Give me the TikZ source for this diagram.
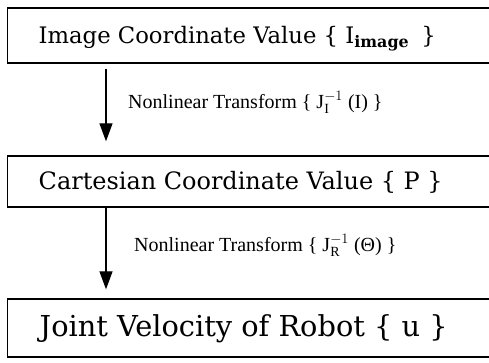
\documentclass[tikz,border=0pt]{standalone}
\usepackage{fontspec}
\setmainfont{Liberation Serif}
\newfontfamily\bkfont{DejaVu Serif}
\usetikzlibrary{arrows.meta}
\tikzset{
  boxnode/.style={draw, line width=1.4pt, minimum width=490pt, inner xsep=0pt, inner ysep=0pt, anchor=west, text depth=0pt},
  arr/.style={line width=1.3pt, -{Triangle[length=18pt,width=13pt]}},
  lbl/.style={anchor=base west, inner sep=0pt, font=\fontsize{20}{20}\selectfont}
}
\begin{document}
\begin{tikzpicture}[x=1pt,y=-1pt]
\useasboundingbox (0,0) rectangle (489,362);
\node[boxnode, minimum height=55pt, text height=15pt] (b1) at (7,35.5)
  {\makebox[490pt][l]{\hspace{31pt}\resizebox{397pt}{!}{\bkfont Image Coordinate Value \{ I\textsubscript{\bfseries image}\enspace\}}}};
\node[boxnode, minimum height=51pt, text height=15pt] (b2) at (7,181.5)
  {\makebox[490pt][l]{\hspace{31pt}\resizebox{404pt}{!}{\bkfont Cartesian Coordinate Value \{ P \}}}};
\node[boxnode, minimum height=58pt, text height=17pt] (b3) at (7,328)
  {\makebox[490pt][l]{\hspace{32pt}\resizebox{408pt}{!}{\bkfont Joint Velocity of Robot \{ u \}}}};
\draw[arr, shorten >=14pt] ([xshift=99pt,yshift=-5pt]b1.south west) -- ([xshift=99pt]b2.north west);
\draw[arr, shorten >=9pt] ([xshift=99pt]b2.south west) -- ([xshift=99pt]b3.north west);
\node[lbl] (l1) at (128,108) {Nonlinear Transform \{ $\mathrm{J}_{\mathrm{I}}^{-1}$ (I) \}};
\node[lbl] (l2) at (134,251) {Nonlinear Transform \{ $\mathrm{J}_{\mathrm{R}}^{-1}$ (Θ) \}};
\end{tikzpicture}
\end{document}
